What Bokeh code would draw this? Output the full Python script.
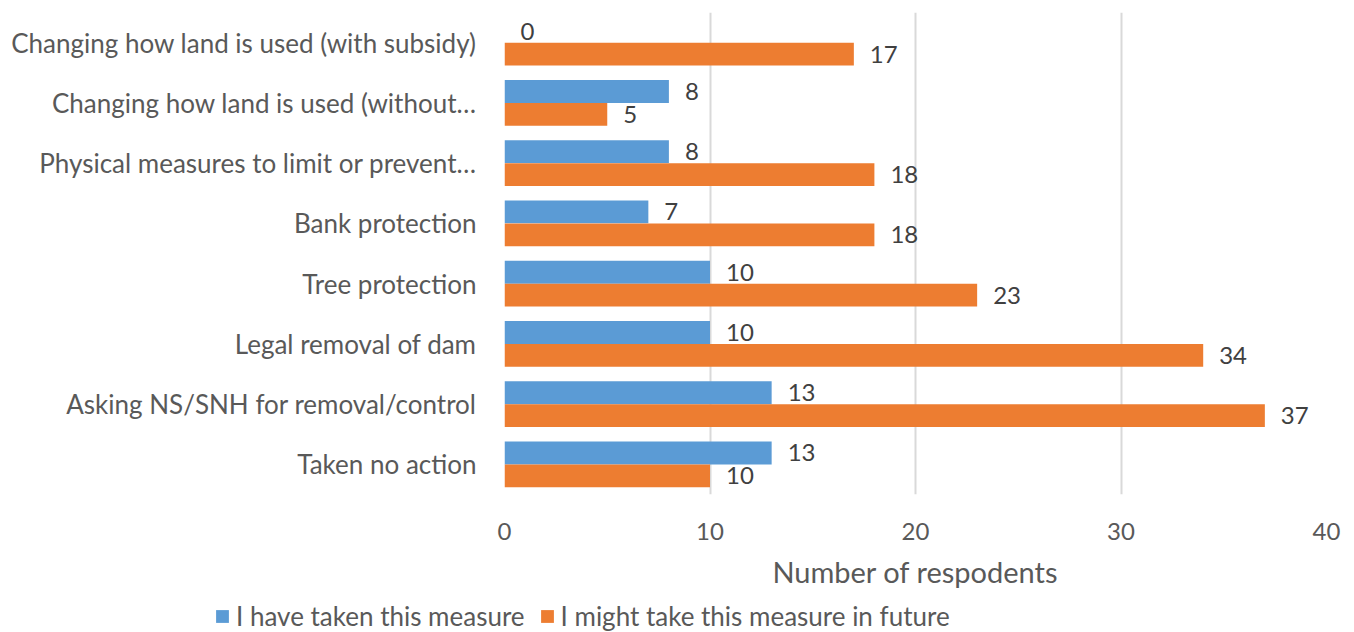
from bokeh.plotting import figure
from bokeh.layouts import column, row
from bokeh.models import ColumnDataSource, FactorRange, Range1d, Legend, LegendItem, FixedTicker
from bokeh.transform import dodge
from bokeh.embed import file_html
from bokeh.resources import INLINE

categories = [
    "Changing how land is used (with subsidy)",
    "Changing how land is used (without…",
    "Physical measures to limit or prevent…",
    "Bank protection",
    "Tree protection",
    "Legal removal of dam",
    "Asking NS/SNH for removal/control",
    "Taken no action",
]
taken = [0, 8, 8, 7, 10, 10, 13, 13]
might = [17, 5, 18, 18, 23, 34, 37, 10]
x_ticks = [0, 10, 20, 30, 40]
series_names = ["I have taken this measure", "I might take this measure in future"]

BLUE = "#5b9bd5"
ORANGE = "#ed7d31"
FONT = "Lato"
TEXT = "#595959"

src = ColumnDataSource(dict(
    cat=categories,
    taken=taken,
    might=might,
    taken_lbl=[str(v) for v in taken],
    might_lbl=[str(v) for v in might],
))

p = figure(
    width=1354, height=594,
    y_range=FactorRange(*reversed(categories)),
    x_range=Range1d(0, 40),
    output_backend="svg", toolbar_location=None,
    min_border_left=504, min_border_right=28,
    min_border_top=12, min_border_bottom=100,
)
p.outline_line_color = None
p.background_fill_color = "white"
p.border_fill_color = "white"

bar_h = 0.38
off = 0.19
p.hbar(y=dodge("cat", off, range=p.y_range), left=0, right="taken",
       height=bar_h, source=src, fill_color=BLUE, line_color=None)
p.hbar(y=dodge("cat", -off, range=p.y_range), left=0, right="might",
       height=bar_h, source=src, fill_color=ORANGE, line_color=None)

# value labels just past the bar ends
for col, lbl, o in (("taken", "taken_lbl", off), ("might", "might_lbl", -off)):
    p.text(x=col, y=dodge("cat", o, range=p.y_range), text=lbl, source=src,
           x_offset=16, text_baseline="middle", text_align="left",
           text_font={"value": FONT}, text_font_size="24px", text_color="#404040")

# axes
p.xaxis.ticker = FixedTicker(ticks=x_ticks)
p.xaxis.axis_line_color = None
p.xaxis.major_tick_line_color = None
p.xaxis.minor_tick_line_color = None
p.xaxis.major_label_text_font = FONT
p.xaxis.major_label_text_font_size = "24px"
p.xaxis.major_label_text_color = TEXT
p.xaxis.major_label_standoff = 22
p.xaxis.axis_label = "Number of respodents"
p.xaxis.axis_label_text_font = FONT
p.xaxis.axis_label_text_font_size = "29px"
p.xaxis.axis_label_text_font_style = "normal"
p.xaxis.axis_label_text_color = TEXT
p.xaxis.axis_label_standoff = 11

p.yaxis.axis_line_color = None
p.yaxis.major_tick_line_color = None
p.yaxis.minor_tick_line_color = None
p.yaxis.major_label_text_font = FONT
p.yaxis.major_label_text_font_size = "26px"
p.yaxis.major_label_text_color = TEXT
p.yaxis.major_label_standoff = 22

p.xgrid.grid_line_color = "#d9d9d9"
p.xgrid.grid_line_width = 2
p.ygrid.grid_line_color = None

# legend strip beneath the chart
lg = figure(
    width=1354, height=38,
    x_range=Range1d(0, 1354), y_range=Range1d(0, 38),
    output_backend="svg", toolbar_location=None,
    min_border=0,
)
lg.axis.visible = False
lg.grid.visible = False
lg.outline_line_color = None
# swatch renderers; their single row sits outside the visible range
swatch = ColumnDataSource(dict(y=[-100], right=[1]))
k1 = lg.hbar(y="y", right="right", height=1, source=swatch, fill_color=BLUE, line_color=None)
k2 = lg.hbar(y="y", right="right", height=1, source=swatch, fill_color=ORANGE, line_color=None)

legend = Legend(
    items=[LegendItem(label=series_names[0], renderers=[k1]),
           LegendItem(label=series_names[1], renderers=[k2])],
    orientation="horizontal",
    location=(214, 0),
    padding=0, margin=0, spacing=14,
    glyph_width=16, glyph_height=16, label_standoff=6,
    label_text_font=FONT, label_text_font_size="26px", label_text_color=TEXT,
    border_line_color=None, background_fill_alpha=0,
)
lg.add_layout(legend, "center")

open("out.html", "w").write(file_html(column(p, row(lg), spacing=0), INLINE))
